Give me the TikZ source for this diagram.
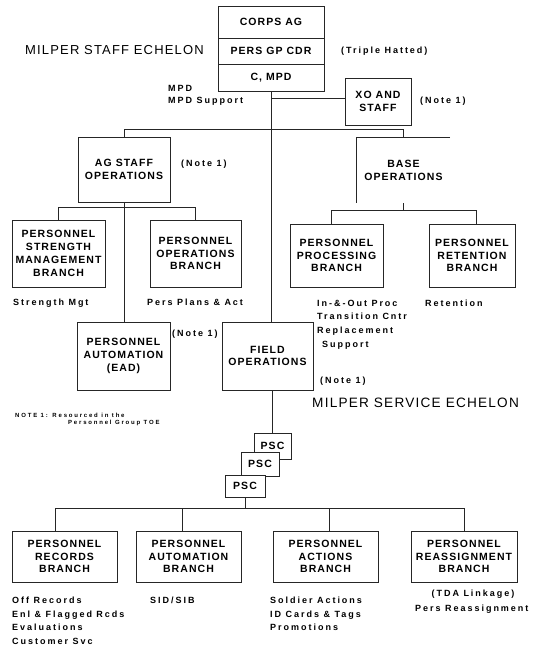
\documentclass[tikz,border=0pt]{standalone}
\usepackage{fontspec}
\setmainfont{Liberation Sans}
\newfontfamily\bxf{Liberation Sans}[LetterSpace=10]
\newfontfamily\lbf{Liberation Sans}[LetterSpace=22]
\newfontfamily\ttlf{Liberation Sans}[LetterSpace=9]
\newfontfamily\ntf{Liberation Sans}[LetterSpace=30]
\tikzset{
  ln/.style={line width=0.75pt, draw=black!85},
  bx/.style={ln, draw, inner sep=0pt, align=center, fill=white,
    font={\bxf\bfseries\fontsize{10.5}{12.8}\selectfont}},
  ob/.style={inner sep=0pt, align=center,
    font={\bxf\bfseries\fontsize{10.5}{12.8}\selectfont}},
  lb/.style={anchor=base west, inner sep=0pt, align=left,
    font={\lbf\bfseries\fontsize{9}{13.7}\selectfont}},
  lbm/.style={lb, anchor=north west},
  ttl/.style={anchor=base west, inner sep=0pt,
    font={\ttlf\fontsize{13}{15}\selectfont}},
  nt/.style={anchor=base west, inner sep=0pt,
    font={\ntf\bfseries\fontsize{6}{7}\selectfont}}
}
\begin{document}
\begin{tikzpicture}[x=1pt,y=-1pt]
\useasboundingbox (0,0) rectangle (533,653);

% top stack
\node[bx, minimum width=106pt, minimum height=32pt] (ca) at (271,22) {CORPS AG};
\node[bx, minimum width=106pt, minimum height=26pt] (pg) at (271,51) {PERS GP CDR};
\node[bx, minimum width=106pt, minimum height=27pt] (cm) at (271,77.5) {C, MPD};

\node[ttl] (t1) at (25,54.7) {MILPER STAFF ECHELON};
\node[lb] (th) at (341,53.2) {(Triple Hatted)};
\node[lbm, font={\lbf\bfseries\fontsize{9}{12}\selectfont}] (mpd) at (168,85.6) {MPD\\MPD Support};

% XO
\node[bx, minimum width=66pt, minimum height=47pt] (xo) at (378,101.5) {XO AND\\STAFF};
\node[lb] (n1) at (420,103.2) {(Note 1)};

% AG staff / base ops
\node[bx, minimum width=92pt, minimum height=65pt] (ag) at (124,169.5) {AG STAFF\\OPERATIONS};
\node[lb] (n2) at (181,166.2) {(Note 1)};
\node[ob, minimum width=93pt, minimum height=65pt] (base) at (403.5,170.5) {BASE\\OPERATIONS};
\draw[ln] (base.north east) -- (base.north west) -- (base.south west);

% branches
\node[bx, minimum width=93pt, minimum height=67pt] (psm) at (58.5,253.5) {PERSONNEL\\STRENGTH\\MANAGEMENT\\BRANCH};
\node[bx, minimum width=91pt, minimum height=67pt] (pob) at (195.5,253.5) {PERSONNEL\\OPERATIONS\\BRANCH};
\node[bx, minimum width=93pt, minimum height=63pt] (ppb) at (336.5,255.5) {PERSONNEL\\PROCESSING\\BRANCH};
\node[bx, minimum width=86pt, minimum height=63pt] (prb) at (472,255.5) {PERSONNEL\\RETENTION\\BRANCH};

\node[lb] (l1) at (13,305.2) {Strength Mgt};
\node[lb] (l2) at (147,305.2) {Pers Plans \& Act};
\node[lbm] (l3) at (317,299.6) {In-\&-Out Proc\\Transition Cntr\\Replacement\\\hspace*{5pt}Support};
\node[lb] (l4) at (425,306.2) {Retention};

\node[bx, minimum width=93pt, minimum height=68pt] (pae) at (123.5,356) {PERSONNEL\\AUTOMATION\\(EAD)};
\node[lb] (n3) at (172,336.2) {(Note 1)};
\node[bx, minimum width=91pt, minimum height=68pt] (fo) at (267.5,356) {FIELD\\OPERATIONS};
\node[lb] (n4) at (320,383.2) {(Note 1)};
\node[ttl, font={\ttlf\fontsize{13.6}{15}\selectfont}] (t2) at (312,407.7) {MILPER SERVICE ECHELON};

\node[nt] (nta) at (15,417) {NOTE 1: Resourced in the};
\node[nt] (ntb) at (68,424) {Personnel Group TOE};

% PSC stack
\node[bx, minimum width=37pt, minimum height=26pt] (psc1) at (272.5,446) {PSC};
\node[bx, minimum width=38pt, minimum height=24pt] (psc2) at (260,464) {PSC};
\node[bx, minimum width=40pt, minimum height=22pt] (psc3) at (245,486) {PSC};

% bottom branches
\node[bx, minimum width=105pt, minimum height=51pt] (prec) at (64.5,556.5) {PERSONNEL\\RECORDS\\BRANCH};
\node[bx, minimum width=105pt, minimum height=51pt] (paut) at (188.5,556.5) {PERSONNEL\\AUTOMATION\\BRANCH};
\node[bx, minimum width=105pt, minimum height=51pt] (pact) at (325.5,556.5) {PERSONNEL\\ACTIONS\\BRANCH};
\node[bx, minimum width=106pt, minimum height=51pt] (pras) at (464,556.5) {PERSONNEL\\REASSIGNMENT\\BRANCH};

\node[lbm] (b1) at (12,596.6) {Off Records\\Enl \& Flagged Rcds\\Evaluations\\Customer Svc};
\node[lb] (b2) at (150,603.2) {SID/SIB};
\node[lbm] (b3) at (270,596.6) {Soldier Actions\\ID Cards \& Tags\\Promotions};
\node[lb, anchor=base] (b4) at (473,596.2) {(TDA Linkage)};
\node[lb] (b5) at (415,611.2) {Pers Reassignment};

% connectors
\coordinate (j1) at (271,98);
\coordinate (j2) at (271,129);
\draw[ln] (cm.south) -- (cm.south |- fo.north);
\draw[ln] (j1) -- (j1 -| xo.west);
\draw[ln] (ag.north) -- (ag.north |- j2) -- (base.north |- j2) -- (base.north);
\draw[ln] (ag.south) -- (ag.south |- pae.north);
\draw[ln] (psm.north) -- ++(0,-12) -| (pob.north);
\draw[ln] (base.south) -- ++(0,8);
\draw[ln] ([xshift=-5pt]ppb.north) -- ++(0,-13) -| ([xshift=4pt]prb.north);
\draw[ln] (fo.south -| psc1.north) -- (psc1.north);
\coordinate (bus) at (0,509);
\draw[ln] (psc3.south) -- (psc3.south |- bus);
\draw[ln] ([xshift=-9pt]prec.north) -- ++(0,-22) -| (pras.north);
\draw[ln] ([xshift=-6pt]paut.north) -- ++(0,-22);
\draw[ln] ([xshift=4pt]pact.north) -- ++(0,-22);
\end{tikzpicture}
\end{document}
